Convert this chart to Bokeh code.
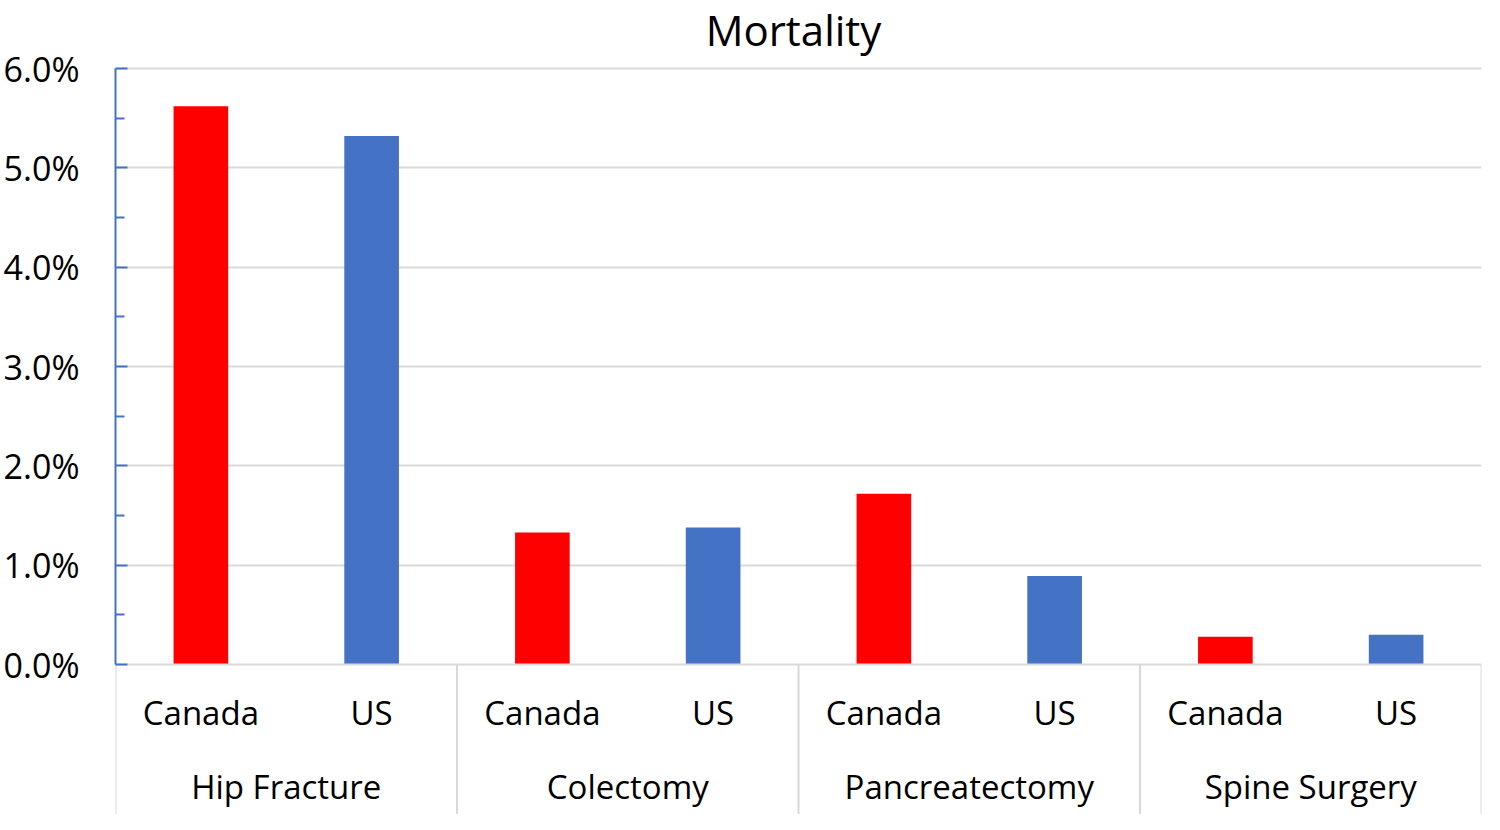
from bokeh.plotting import figure
from bokeh.models import FactorRange, Range1d, FixedTicker, NumeralTickFormatter, ColumnDataSource
from bokeh.core.properties import value
from bokeh.embed import file_html
from bokeh.resources import INLINE

# ---- data ----
groups = ["Hip Fracture", "Colectomy", "Pancreatectomy", "Spine Surgery"]
countries = ["Canada", "US"]
canada = [0.0562, 0.0133, 0.0172, 0.0028]
us = [0.0532, 0.0138, 0.0089, 0.0030]
y_ticks = [0.0, 0.01, 0.02, 0.03, 0.04, 0.05, 0.06]
title = "Mortality"
colors = {"Canada": "#FF0000", "US": "#4472C4"}

FONT = "Open Sans"
GRID = "#D9D9D9"

# layout in pixels (frame spans the full figure height)
W, H = 1484, 814
ZERO_PX = 664                       # pixel row (from figure top) of the 0% line
TOP_PX = 68                         # pixel row of the 6% line
PX_PER_UNIT = (ZERO_PX - TOP_PX) / y_ticks[-1]
y_top = ZERO_PX / PX_PER_UNIT
y_bot = -(H - ZERO_PX) / PX_PER_UNIT

def px_to_y(px):
    return (ZERO_PX - px) / PX_PER_UNIT

factors = [(g, c) for g in groups for c in countries]
vals = []
cols = []
for i, g in enumerate(groups):
    vals += [canada[i], us[i]]
    cols += [colors["Canada"], colors["US"]]

src = ColumnDataSource(dict(x=factors, top=vals, color=cols))

xr = FactorRange(factors=factors, factor_padding=0, group_padding=0, range_padding=0)
p = figure(width=W, height=H, x_range=xr, y_range=Range1d(y_bot, y_top),
           output_backend="svg", toolbar_location=None,
           min_border_left=114, min_border_right=3, min_border_top=0, min_border_bottom=0)

p.outline_line_color = None
p.background_fill_color = "white"
p.border_fill_color = "white"
p.xaxis.visible = False
p.xgrid.visible = False

# y axis
yax = p.yaxis[0]
yax.ticker = FixedTicker(ticks=y_ticks, minor_ticks=[t + 0.005 for t in y_ticks[:-1]])
yax.formatter = NumeralTickFormatter(format="0.0%")
yax.bounds = (y_ticks[0], y_ticks[-1])
yax.axis_line_color = "#4472C4"
yax.axis_line_width = 2
yax.major_tick_line_color = "#4472C4"
yax.major_tick_line_width = 2
yax.minor_tick_line_color = "#4472C4"
yax.minor_tick_line_width = 2
yax.major_tick_in = 12
yax.major_tick_out = 0
yax.minor_tick_in = 9
yax.minor_tick_out = 0
yax.major_label_standoff = 36
yax.major_label_text_font = FONT
yax.major_label_text_font_size = "34px"
yax.major_label_text_color = "#000000"

p.ygrid.ticker = FixedTicker(ticks=y_ticks[1:])
p.ygrid.grid_line_color = GRID
p.ygrid.grid_line_width = 2

# bars
p.vbar(x="x", top="top", bottom=0, width=0.32, fill_color="color", line_color=None, source=src)

# category axis area: baseline and separators
n = len(countries)
bounds_x = [i * n for i in range(len(groups) + 1)]
p.segment(x0=[bounds_x[0]], x1=[bounds_x[-1]], y0=[0], y1=[0], line_color=GRID, line_width=2)
p.segment(x0=bounds_x, x1=bounds_x, y0=[0] * len(bounds_x), y1=[y_bot] * len(bounds_x),
          line_color=GRID, line_width=2)

p.text(x=factors, y=[px_to_y(712)] * len(factors), text=[f[1] for f in factors],
       text_font=value(FONT), text_font_size="33px", text_align="center",
       text_baseline="middle", text_color="#000000")
p.text(x=groups, y=[px_to_y(786)] * len(groups), text=groups,
       text_font=value(FONT), text_font_size="33px", text_align="center",
       text_baseline="middle", text_color="#000000")

# title
p.text(x=[bounds_x[-1] / 2], y=[px_to_y(29)], text=[title], x_offset=-5,
       text_font=value(FONT), text_font_size="42px", text_align="center",
       text_baseline="middle", text_color="#000000")

open("out.html", "w").write(file_html(p, INLINE))
